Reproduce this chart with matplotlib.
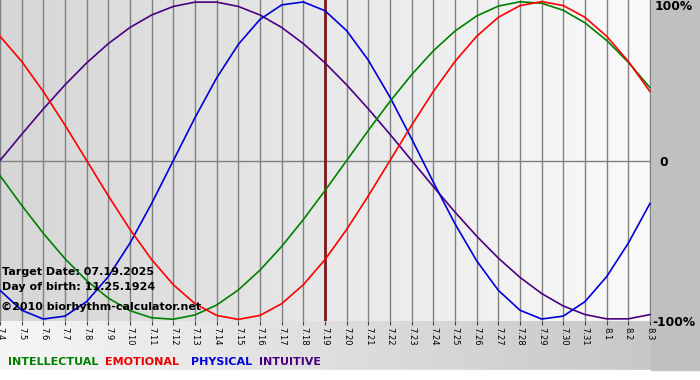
import numpy as np
import matplotlib
matplotlib.use("Agg")
import matplotlib.pyplot as plt
from matplotlib.colors import LinearSegmentedColormap

# dates 7.4 .. 8.3
days = ['7.4', '7.5', '7.6', '7.7', '7.8', '7.9', '7.10', '7.11', '7.12', '7.13',
        '7.14', '7.15', '7.16', '7.17', '7.18', '7.19', '7.20', '7.21', '7.22', '7.23',
        '7.24', '7.25', '7.26', '7.27', '7.28', '7.29', '7.30', '7.31', '8.1', '8.2', '8.3']
target_idx = 15  # 7.19

# values in percent, one per day
physical = [-81.70, -94.23, -99.77, -97.91, -88.79, -73.08, -51.96, -26.98, 0.0, 26.98,
            51.96, 73.08, 88.79, 97.91, 99.77, 94.23, 81.70, 63.11, 39.84, 13.62,
            -13.62, -39.84, -63.11, -81.70, -94.23, -99.77, -97.91, -88.79, -73.08, -51.96,
            -26.98]
emotional = [78.18, 62.35, 43.39, 22.25, 0.0, -22.25, -43.39, -62.35, -78.18, -90.10,
             -97.49, -100.0, -97.49, -90.10, -78.18, -62.35, -43.39, -22.25, 0.0, 22.25,
             43.39, 62.35, 78.18, 90.10, 97.49, 100.0, 97.49, 90.10, 78.18, 62.35,
             43.39]
intellectual = [-9.50, -28.17, -45.82, -61.82, -75.57, -86.60, -94.50, -98.98, -99.89, -97.18,
                -90.96, -81.46, -69.01, -54.06, -37.17, -18.93, 0.0, 18.93, 37.17, 54.06,
                69.01, 81.46, 90.96, 97.18, 99.89, 98.98, 94.50, 86.60, 75.57, 61.82,
                45.82]
intuitive = [0.0, 16.46, 32.47, 47.59, 61.42, 73.55, 83.72, 91.57, 96.94, 99.66,
             99.66, 96.94, 91.57, 83.72, 73.55, 61.42, 47.59, 32.47, 16.46, 0.0,
             -16.46, -32.47, -47.59, -61.42, -73.55, -83.72, -91.57, -96.94, -99.66, -99.66,
             -96.94]

W, H = 700, 380
fig = plt.figure(figsize=(W / 100, H / 100), dpi=100)
fig.patch.set_facecolor('#c0c0c0')

# bottom strip gradient (light left -> gray right)
bg = fig.add_axes([0, 0, 1, 1])
bg.set_axis_off()
grad = np.linspace(0, 1, 256).reshape(1, -1)
cm_bottom = LinearSegmentedColormap.from_list('b', ['#f6f6f6', '#c4c4c4'])
bg.imshow(grad, aspect='auto', cmap=cm_bottom, extent=[0, 1, 10 / H, 60 / H])
bg.axhspan(0, 10 / H, color='#ffffff')
bg.axvspan(651 / W, 1, 10 / H, 1, color='#c0c0c0')
bg.set_xlim(0, 1)
bg.set_ylim(0, 1)

ax = fig.add_axes([0, 1 - 321 / H, 651 / W, 321 / H])
n = len(days)
x = np.arange(n)
xmax = (n - 1) * 651 / 650
ax.set_xlim(0, xmax)
ax.set_ylim(-101, 101)

cm_plot = LinearSegmentedColormap.from_list('p', ['#d6d6d6', '#fafafa'])
ax.imshow(grad, aspect='auto', cmap=cm_plot, extent=[0, xmax, -101, 101], zorder=0)

for xi in x:
    ax.axvline(xi, color='#808080', lw=1.0, zorder=1)
ax.axhline(0, color='#808080', lw=1.0, zorder=1)
ax.axvline(target_idx, color='#7a1a1a', lw=2.0, zorder=2)

ax.plot(x, intuitive, color='#4b0082', lw=1.2, zorder=3)
ax.plot(x, physical, color='#0000dd', lw=1.2, zorder=3)
ax.plot(x, intellectual, color='#008000', lw=1.2, zorder=3)
ax.plot(x, emotional, color='#ff0000', lw=1.2, zorder=3)

for s in ax.spines.values():
    s.set_visible(False)
ax.set_yticks([])
ax.set_xticks(x)
ax.set_xticklabels(days, rotation=270, fontsize=6)
ax.tick_params(axis='x', length=3, width=0.8, pad=1, color='#404040')

tfont = dict(fontsize=8, fontweight='bold', color='#000000', zorder=4)
ax.text(0.1, -70, 'Target Date: 07.19.2025', va='center', ha='left', **tfont)
ax.text(0.1, -79.5, 'Day of birth: 11.25.1924', va='center', ha='left', **tfont)
ax.text(0.05, -92, '\u00a92010 biorhythm-calculator.net', va='center', ha='left', **tfont)

# right axis labels
fig.text(655 / W, 1 - 7 / H, '100%', fontsize=8.8, fontweight='bold', va='center', ha='left')
fig.text(659 / W, 1 - 162 / H, '0', fontsize=8.8, fontweight='bold', va='center', ha='left')
fig.text(652 / W, 1 - 322 / H, '-100%', fontsize=8.8, fontweight='bold', va='center', ha='left')

# legend
lx = 8
gaps = [7, 12, 7, 0]
for (label, col), gap in zip([('INTELLECTUAL', '#008000'), ('EMOTIONAL', '#ee0000'),
                              ('PHYSICAL', '#0000dd'), ('INTUITIVE', '#4b0082')], gaps):
    t = fig.text(lx / W, 1 - 362 / H, label, color=col, fontsize=8, fontweight='bold',
                 va='center', ha='left')
    fig.canvas.draw()
    bb = t.get_window_extent()
    lx = bb.x1 + gap

fig.savefig('out.png', dpi=100, facecolor=fig.get_facecolor())
